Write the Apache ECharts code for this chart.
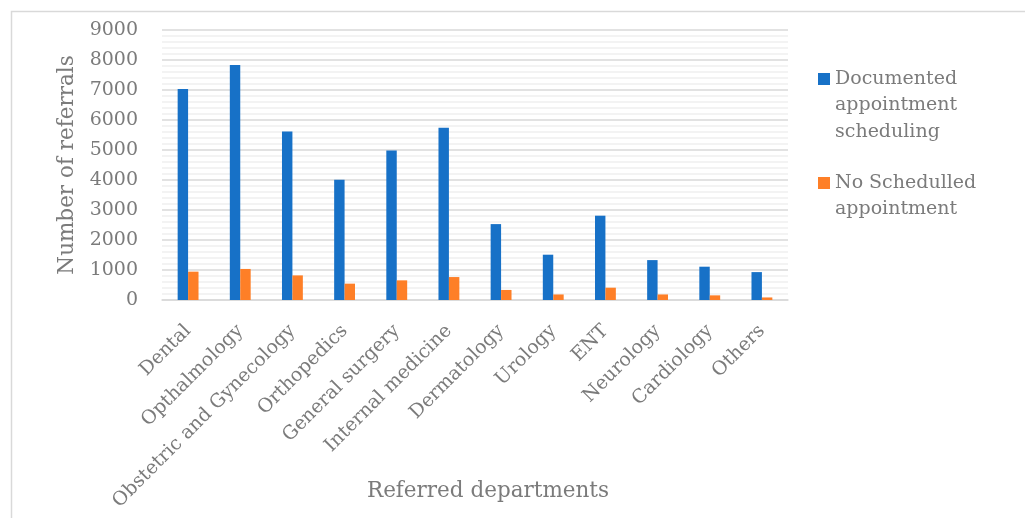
<!DOCTYPE html>
<html>
<head>
<meta charset="utf-8">
<title>Referrals by department</title>
<script src="https://cdn.jsdelivr.net/npm/echarts@6/dist/echarts.min.js"></script>
<style>
  html, body { margin: 0; padding: 0; background: #fff; }
  #EChart { width: 1025px; height: 518px; }
</style>
</head>
<body>
<div id="EChart"></div>
<script>
// data
const departments = ['Dental', 'Opthalmology', 'Obstetric and Gynecology', 'Orthopedics',
  'General surgery', 'Internal medicine', 'Dermatology', 'Urology', 'ENT',
  'Neurology', 'Cardiology', 'Others'];
const documented = [7030, 7830, 5620, 4010, 4980, 5740, 2530, 1510, 2810, 1330, 1110, 930];
const notScheduled = [945, 1035, 820, 545, 655, 765, 335, 185, 410, 185, 155, 85];
const yTicks = [0, 1000, 2000, 3000, 4000, 5000, 6000, 7000, 8000, 9000];

const seriesNames = ['Documented appointment scheduling', 'No Schedulled appointment'];
// blank lines up front so the first line sits level with the square marker
const legendLines = {
  'Documented appointment scheduling': '\n\nDocumented\nappointment\nscheduling',
  'No Schedulled appointment': '\nNo Schedulled\nappointment'
};

const FONT = 'DejaVu Serif';
const GREY = '#7b7b7b';
const LINE_H = 26.5;

let EChart = echarts.init(document.getElementById('EChart'));

function legendFor(name, top) {
  return {
    orient: 'vertical',
    left: 818,
    top: top,
    padding: 0,
    itemWidth: 12,
    itemHeight: 12,
    icon: 'rect',
    selectedMode: false,
    data: [{ name: name }],
    formatter: n => legendLines[n],
    textStyle: { fontFamily: FONT, fontSize: 19, color: GREY, lineHeight: LINE_H }
  };
}

let config = {
  backgroundColor: '#fff',
  animation: false,
  textStyle: { fontFamily: FONT },
  graphic: [{
    type: 'rect',
    shape: { x: 11.5, y: 11.5, width: 1030, height: 530 },
    style: { fill: 'none', stroke: '#d9d9d9', lineWidth: 1.5 },
    silent: true
  }],
  grid: { left: 162, right: 237, top: 30, height: 270, outerBoundsMode: 'none', containLabel: false },
  legend: [
    legendFor(seriesNames[0], 79 - 2.5 * LINE_H),
    legendFor(seriesNames[1], 183 - 1.5 * LINE_H)
  ],
  xAxis: {
    type: 'category',
    data: departments,
    name: 'Referred departments',
    nameLocation: 'middle',
    nameGap: 180,
    nameMoveOverlap: false,
    nameTextStyle: { fontFamily: FONT, fontSize: 21.5, color: GREY, padding: [0, 0, 0, 26] },
    axisLine: { lineStyle: { color: '#d9d9d9', width: 1.5 } },
    axisTick: { show: false },
    axisLabel: {
      interval: 0,
      rotate: 45,
      margin: 28,
      fontFamily: FONT,
      fontSize: 19,
      color: GREY
    }
  },
  yAxis: {
    type: 'value',
    min: yTicks[0],
    max: yTicks[yTicks.length - 1],
    interval: 1000,
    name: 'Number of referrals',
    nameLocation: 'middle',
    nameGap: 84,
    nameMoveOverlap: false,
    nameTextStyle: { fontFamily: FONT, fontSize: 21.5, color: GREY },
    axisLine: { show: false },
    axisTick: { show: false },
    axisLabel: { margin: 24, fontFamily: FONT, fontSize: 19, color: GREY, formatter: v => String(v) },
    splitLine: { lineStyle: { color: '#d9d9d9', width: 1.5 } },
    minorTick: { show: false, splitNumber: 5 },
    minorSplitLine: { show: true, lineStyle: { color: '#f0f0f0', width: 1.5 } }
  },
  series: [{
    name: seriesNames[0],
    type: 'bar',
    data: documented,
    barGap: '0%',
    barCategoryGap: '60%',
    itemStyle: { color: '#1771c7' }
  }, {
    name: seriesNames[1],
    type: 'bar',
    data: notScheduled,
    barGap: '0%',
    barCategoryGap: '60%',
    itemStyle: { color: '#fe7f27' }
  }]
};

EChart.setOption(config);
</script>
</body>
</html>
